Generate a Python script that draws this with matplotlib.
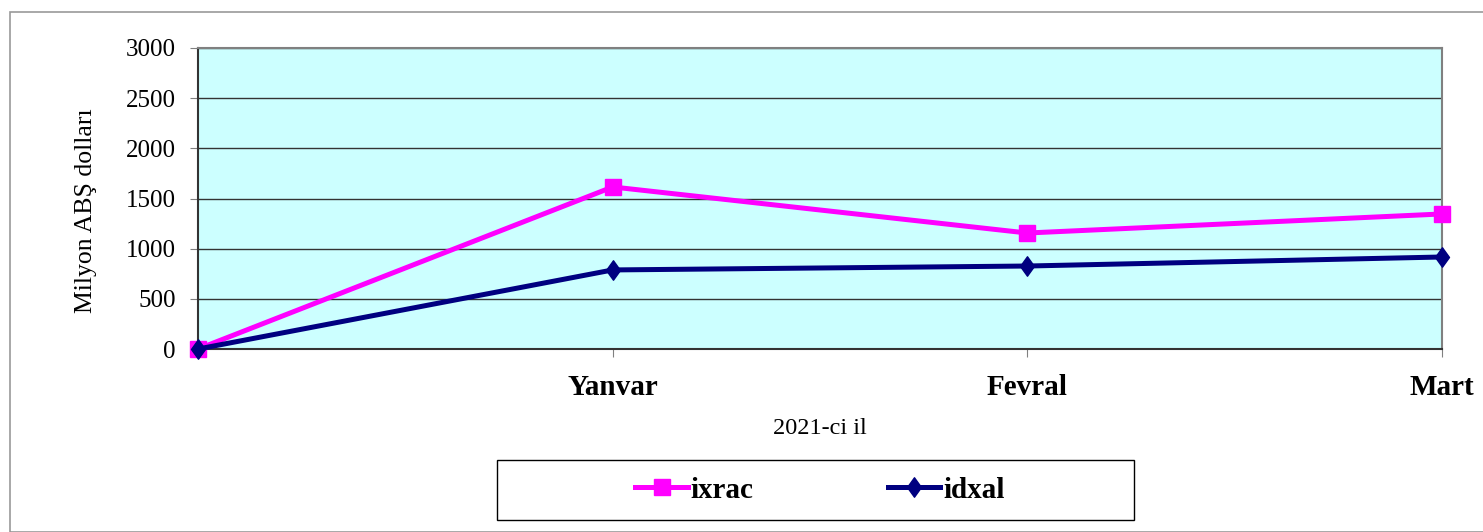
import matplotlib.pyplot as plt
from matplotlib.patches import Rectangle
from matplotlib.path import Path

# data
months = ["", "Yanvar", "Fevral", "Mart"]
ixrac = [0, 1615, 1156, 1346]
idxal = [0, 788, 827, 917]
yticks = [0, 500, 1000, 1500, 2000, 2500, 3000]

plt.rcParams['font.family'] = ['Liberation Serif', 'DejaVu Serif']

W, H = 1483, 532
fig = plt.figure(figsize=(W / 100, H / 100), dpi=100)
ax = fig.add_axes([198 / W, 1 - 349 / H, (1442 - 198) / W, (349 - 48) / H])

# outer chart border
fig.patches.append(Rectangle((10 / W, 0.0), 1.2, 1 - 12 / H, transform=fig.transFigure,
                             fill=False, edgecolor='#999999', linewidth=1.2, zorder=0))

# taller-than-wide diamond like the original
diamond = Path([(-0.72, 0), (0, 1), (0.72, 0), (0, -1), (-0.72, 0)],
               [Path.MOVETO, Path.LINETO, Path.LINETO, Path.LINETO, Path.CLOSEPOLY])

x = list(range(len(months)))
ax.set_facecolor('#CCFFFF')
ax.plot(x, ixrac, color='#FF00FF', linewidth=3.6, marker='s', markersize=12,
        label='ixrac', zorder=3, clip_on=False)
ax.plot(x, idxal, color='#000080', linewidth=3.6, marker=diamond, markersize=14,
        label='idxal', zorder=4, clip_on=False)

ax.set_xlim(0, 3)
ax.set_ylim(0, 3000)
ax.set_yticks(yticks)
ax.set_xticks(x)
ax.set_xticklabels(months, fontweight='bold', fontsize=21)
ax.tick_params(axis='x', length=6, pad=12, color='#808080')
ax.tick_params(axis='y', length=6, pad=10, labelsize=18, color='#808080')
ax.yaxis.grid(True, color='#333333', linewidth=1)
ax.set_axisbelow(True)

for s in ['top', 'right']:
    ax.spines[s].set_color('#808080')
    ax.spines[s].set_linewidth(1.5)
for s in ['left', 'bottom']:
    ax.spines[s].set_color('#333333')
    ax.spines[s].set_linewidth(1.5)

ax.set_ylabel('Milyon ABŞ dolları', fontsize=18.5)
ax.yaxis.set_label_coords(-0.081, 0.458)
ax.set_xlabel('2021-ci il', fontsize=17.5, labelpad=12)

# legend box drawn separately so its width matches the original
fig.patches.append(Rectangle((497 / W, 1 - 520 / H), (1134 - 497) / W, 60 / H,
                             transform=fig.transFigure, fill=True, facecolor='white',
                             edgecolor='black', linewidth=1, zorder=1))
leg = fig.legend(loc='center', bbox_to_anchor=(820 / W, 1 - 490 / H), ncol=2,
                 frameon=False, handlelength=1.8, columnspacing=4.6,
                 handletextpad=0.1, prop={'weight': 'bold', 'size': 21})
leg.set_zorder(2)

fig.savefig('out.png', dpi=100)
